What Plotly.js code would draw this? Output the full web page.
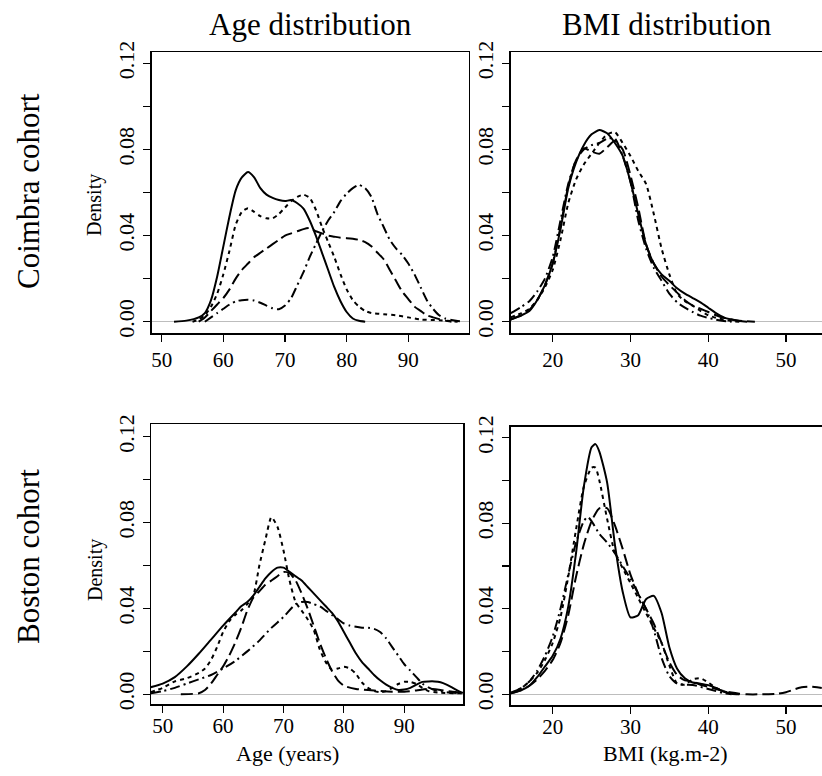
<!DOCTYPE html>
<html>
<head>
<meta charset="utf-8">
<script src="https://cdn.plot.ly/plotly-3.0.1.min.js"></script>
<style>
html,body{margin:0;padding:0;background:#fff;overflow:hidden;}
#chart{width:822px;height:776px;}
</style>
</head>
<body>
<div id="chart"></div>
<script>
// ---------- Data (kernel density estimates) ----------
// Coimbra cohort – Age
const cAgeSolidX = [52,54,56,57,58,59,60,61,62,63,64,65,66,67,68,69,70,71,72,73,74,75,76,77,78,79,80,81,82,83];
const cAgeSolidY = [0,0.0005,0.002,0.004,0.010,0.021,0.035,0.049,0.061,0.067,0.0695,0.067,0.062,0.059,0.0575,0.0565,0.056,0.0565,0.055,0.0525,0.047,0.040,0.032,0.024,0.016,0.0095,0.0045,0.0015,0.0004,0];
const cAgeDotX = [55,56,57,58,59,60,61,62,63,64,65,66,67,68,69,70,71,72,73,74,75,76,77,78,79,80,81,82,83,84,86,88,90,92,95,98];
const cAgeDotY = [0,0.001,0.003,0.007,0.013,0.022,0.033,0.045,0.051,0.0527,0.051,0.049,0.048,0.048,0.050,0.053,0.056,0.058,0.059,0.0575,0.052,0.044,0.037,0.030,0.022,0.015,0.010,0.007,0.005,0.004,0.0035,0.003,0.002,0.001,0.0007,0];
const cAgeDashX = [56,57,58,59,60,61,62,63,64,65,66,67,68,69,70,71,72,73,74,75,76,77,78,79,80,81,82,83,84,85,86,87,88,89,90,91,92,93,94,95,96,97];
const cAgeDashY = [0,0.002,0.005,0.008,0.011,0.015,0.020,0.024,0.027,0.030,0.032,0.034,0.036,0.038,0.040,0.041,0.042,0.043,0.0435,0.042,0.041,0.040,0.0395,0.039,0.0388,0.0385,0.038,0.037,0.035,0.032,0.029,0.024,0.019,0.014,0.0105,0.007,0.005,0.003,0.002,0.0012,0.0005,0];
const cAgeDashDotX = [57,58,59,60,61,62,63,64,65,66,67,68,69,70,71,72,73,74,75,76,77,78,79,80,81,82,83,84,85,86,87,88,89,90,91,92,93,94,95,96,97,98,99];
const cAgeDashDotY = [0,0.002,0.004,0.006,0.008,0.0095,0.010,0.0102,0.0098,0.0088,0.0075,0.0062,0.0058,0.0075,0.011,0.017,0.023,0.030,0.036,0.042,0.047,0.051,0.056,0.0595,0.062,0.0635,0.062,0.058,0.050,0.044,0.038,0.034,0.031,0.027,0.022,0.016,0.010,0.006,0.003,0.0015,0.0008,0.0003,0];

// Coimbra cohort – BMI
const cBmiSolidX = [14.6,16,17,18,19,20,21,22,23,24,25,26,27,28,29,30,31,32,33,34,35,36,37,38,39,40,41,42,43,44,45];
const cBmiSolidY = [0.001,0.003,0.005,0.010,0.017,0.027,0.043,0.062,0.074,0.082,0.087,0.089,0.0875,0.083,0.077,0.065,0.050,0.036,0.027,0.022,0.019,0.0155,0.013,0.011,0.009,0.0065,0.004,0.002,0.001,0.0003,0];
const cBmiDotX = [14.6,16,17,18,19,20,21,22,23,24,25,26,27,28,29,30,31,32,33,34,35,36,37,38,39,40,41,42,43,44];
const cBmiDotY = [0.002,0.004,0.006,0.010,0.016,0.024,0.038,0.055,0.066,0.073,0.078,0.083,0.087,0.088,0.083,0.077,0.070,0.064,0.050,0.034,0.022,0.013,0.0095,0.0075,0.005,0.003,0.0018,0.001,0.0003,0];
const cBmiDashX = [14.6,16,17,18,19,20,21,22,23,24,25,26,27,28,29,30,31,32,33,34,35,36,37,38,39,40,41,42,43,44,46];
const cBmiDashY = [0.001,0.003,0.0055,0.010,0.017,0.027,0.044,0.063,0.075,0.0805,0.079,0.078,0.081,0.084,0.080,0.068,0.053,0.036,0.027,0.021,0.017,0.0135,0.010,0.0075,0.006,0.0045,0.003,0.0018,0.001,0.0004,0];
const cBmiDashDotX = [14.6,16,17,18,19,20,21,22,23,24,25,26,27,28,29,30,31,32,33,34,35,36,37,38,39,40,41,42,43];
const cBmiDashDotY = [0.004,0.007,0.0095,0.014,0.020,0.030,0.047,0.064,0.075,0.080,0.082,0.083,0.085,0.085,0.077,0.065,0.047,0.034,0.025,0.019,0.013,0.009,0.0065,0.0045,0.0028,0.0018,0.0009,0.0003,0];

// Boston cohort – Age
const bAgeSolidX = [48,50,52,54,56,58,60,62,63,64,65,66,67,68,69,70,71,72,73,74,75,76,77,78,79,80,81,82,83,84,85,86,87,88,89,90,91,92,93,94,95,96,97,98,99,99.7];
const bAgeSolidY = [0.0033,0.005,0.008,0.013,0.019,0.0255,0.032,0.038,0.041,0.043,0.046,0.050,0.054,0.057,0.059,0.059,0.057,0.055,0.053,0.050,0.047,0.044,0.041,0.038,0.034,0.029,0.024,0.019,0.015,0.012,0.009,0.0065,0.0045,0.003,0.002,0.0022,0.003,0.0045,0.0058,0.006,0.006,0.0056,0.0045,0.003,0.0015,0.0006];
const bAgeDotX = [48,50,52,54,56,57,58,59,60,61,62,63,64,65,66,67,68,69,70,71,72,73,74,75,76,77,78,79,80,81,82,83,84,85,86,87,88,89,90,91,92,93,94,96,99.5];
const bAgeDotY = [0.001,0.003,0.006,0.0075,0.010,0.012,0.016,0.022,0.029,0.034,0.037,0.039,0.042,0.046,0.060,0.072,0.0825,0.078,0.067,0.053,0.043,0.039,0.035,0.030,0.021,0.015,0.0115,0.012,0.0128,0.012,0.0095,0.0055,0.003,0.0015,0.001,0.0015,0.003,0.0048,0.0058,0.0058,0.0048,0.003,0.0015,0.0007,0.0005];
const bAgeDashX = [53,55,56,57,58,59,60,61,62,63,64,65,66,67,68,69,70,71,72,73,74,75,76,77,78,79,80,82,84,86,88,90,92,94,96,98,99.7];
const bAgeDashY = [0,0.0002,0.0005,0.002,0.005,0.009,0.013,0.018,0.024,0.031,0.039,0.045,0.048,0.051,0.053,0.055,0.057,0.0565,0.053,0.047,0.040,0.032,0.024,0.017,0.011,0.0065,0.004,0.0025,0.002,0.0015,0.0012,0.0012,0.0018,0.0025,0.002,0.0012,0.0008];
const bAgeDashDotX = [48,50,52,54,56,58,60,62,64,66,68,70,72,73,74,75,76,77,78,79,80,81,82,83,84,85,86,87,88,89,90,91,92,93,94,95,96,97,99.5];
const bAgeDashDotY = [0.0005,0.0015,0.003,0.005,0.007,0.009,0.012,0.0155,0.020,0.025,0.031,0.036,0.042,0.043,0.043,0.042,0.041,0.039,0.037,0.035,0.033,0.032,0.0315,0.031,0.031,0.0305,0.029,0.026,0.022,0.018,0.014,0.011,0.008,0.005,0.0032,0.002,0.0015,0.001,0.0005];

// Boston cohort – BMI
const bBmiSolidX = [14.6,16,17,18,19,20,21,22,23,24,25,25.5,26,27,28,29,30,31,32,33,34,35,36,37,38,39,40,41,42,43,44];
const bBmiSolidY = [0.0005,0.002,0.004,0.008,0.013,0.018,0.026,0.041,0.066,0.097,0.1155,0.117,0.1135,0.099,0.070,0.048,0.036,0.037,0.0445,0.046,0.038,0.022,0.012,0.0075,0.0055,0.005,0.0043,0.003,0.0012,0.0003,0];
const bBmiDotX = [14.6,16,17,18,19,20,21,22,23,24,25,25.5,26,27,28,29,30,31,32,33,34,35,36,37,38,39,40,41,42,43,44];
const bBmiDotY = [0.0005,0.003,0.006,0.010,0.016,0.024,0.036,0.055,0.077,0.097,0.106,0.106,0.100,0.082,0.066,0.059,0.052,0.045,0.038,0.031,0.024,0.0135,0.005,0.0045,0.007,0.0075,0.0055,0.003,0.0015,0.0005,0];
const bBmiDashX = [14.6,16,17,18,19,20,21,22,23,24,25,26,27,28,29,30,31,32,33,34,35,36,37,38,39,40,41,42,43,44,45,47,49,50,51,52,53,54,54.6];
const bBmiDashY = [0.0005,0.002,0.004,0.007,0.011,0.016,0.024,0.037,0.055,0.070,0.081,0.087,0.087,0.079,0.068,0.056,0.047,0.040,0.033,0.024,0.015,0.009,0.0065,0.006,0.0045,0.0035,0.0025,0.0015,0.0008,0.0003,0,0,0.0003,0.001,0.0022,0.0033,0.0036,0.0033,0.003];
const bBmiDashDotX = [14.6,16,17,18,19,20,21,22,23,24,24.5,25,26,27,28,29,30,31,32,33,34,35,36,37,38,39,40,41,42,43];
const bBmiDashDotY = [0.0008,0.003,0.006,0.011,0.018,0.027,0.040,0.056,0.071,0.081,0.083,0.081,0.075,0.071,0.066,0.060,0.054,0.047,0.040,0.030,0.017,0.0085,0.005,0.0045,0.0044,0.0035,0.0025,0.0015,0.0005,0];

// Tick labels
const ageTicks = [50,60,70,80,90];
const bmiTicks = [20,30,40,50];
const densTickVals = [0,0.02,0.04,0.06,0.08,0.10,0.12];
const densTickText = ['0.00','','0.04','','0.08','','0.12'];

// ---------- Styles ----------
const FONT = 'Liberation Serif, Times New Roman, serif';
const dashes = {solid:'solid', dot:'4px,4px', dash:'12px,5px', dashdot:'10px,4px,2px,4px'};

function tr(x, y, dash, xa, ya) {
  return {x:x, y:y, xaxis:xa, yaxis:ya, type:'scatter', mode:'lines',
    line:{color:'#000', width:2, dash:dashes[dash], shape:'spline', smoothing:0.6},
    hoverinfo:'skip', showlegend:false};
}

const data = [
  tr(cAgeSolidX, cAgeSolidY, 'solid', 'x', 'y'),
  tr(cAgeDotX, cAgeDotY, 'dot', 'x', 'y'),
  tr(cAgeDashX, cAgeDashY, 'dash', 'x', 'y'),
  tr(cAgeDashDotX, cAgeDashDotY, 'dashdot', 'x', 'y'),
  tr(cBmiSolidX, cBmiSolidY, 'solid', 'x2', 'y2'),
  tr(cBmiDotX, cBmiDotY, 'dot', 'x2', 'y2'),
  tr(cBmiDashX, cBmiDashY, 'dash', 'x2', 'y2'),
  tr(cBmiDashDotX, cBmiDashDotY, 'dashdot', 'x2', 'y2'),
  tr(bAgeSolidX, bAgeSolidY, 'solid', 'x3', 'y3'),
  tr(bAgeDotX, bAgeDotY, 'dot', 'x3', 'y3'),
  tr(bAgeDashX, bAgeDashY, 'dash', 'x3', 'y3'),
  tr(bAgeDashDotX, bAgeDashDotY, 'dashdot', 'x3', 'y3'),
  tr(bBmiSolidX, bBmiSolidY, 'solid', 'x4', 'y4'),
  tr(bBmiDotX, bBmiDotY, 'dot', 'x4', 'y4'),
  tr(bBmiDashX, bBmiDashY, 'dash', 'x4', 'y4'),
  tr(bBmiDashDotX, bBmiDashDotY, 'dashdot', 'x4', 'y4')
];

const W = 822, H = 776;
function xd(a, b) { return [a / W, Math.min(b / W, 1)]; }
function yd(top, bot) { return [1 - bot / H, 1 - top / H]; }

function xaxis(dom, range, ticks, anchor, standoff) {
  return {domain:dom, range:range, anchor:anchor, tickmode:'array', tickvals:ticks,
    ticktext:ticks.map(String), ticks:'outside', ticklen:7, tickwidth:1.2, tickcolor:'#000',
    ticklabelstandoff:standoff,
    showline:true, linecolor:'#000', linewidth:1.5, mirror:true, showgrid:false, zeroline:false,
    tickfont:{family:FONT, size:21, color:'#000'}, fixedrange:true};
}
function yaxis(dom, range, anchor, mirror) {
  return {domain:dom, range:range, anchor:anchor, tickmode:'array', tickvals:densTickVals,
    ticktext:densTickText, tickangle:-90, ticks:'outside', ticklen:7, tickwidth:1.2, tickcolor:'#000',
    showline:true, linecolor:'#000', linewidth:1.5, mirror:mirror, showgrid:false,
    zeroline:true, zerolinecolor:'#bdbdbd', zerolinewidth:1.2,
    tickfont:{family:FONT, size:22, color:'#000'}, fixedrange:true};
}

const layout = {
  width:W, height:H, margin:{l:0, r:0, t:0, b:0},
  paper_bgcolor:'#fff', plot_bgcolor:'#fff', showlegend:false,
  xaxis:  xaxis(xd(151.7, 468.5), [48.38, 99.76], ageTicks, 'y', 0),
  yaxis:  yaxis(yd(52, 333), [-0.00525, 0.12525], 'x', true),
  xaxis2: xaxis(xd(510.7, 822), [14.6, 54.63], bmiTicks, 'y2', 0),
  yaxis2: yaxis(yd(52, 333), [-0.00525, 0.12525], 'x2', false),
  xaxis3: xaxis(xd(151, 463.3), [48.06, 99.77], ageTicks, 'y3', -5),
  yaxis3: yaxis(yd(424.3, 704), [-0.00452, 0.12578], 'x3', true),
  xaxis4: xaxis(xd(510.7, 822), [14.6, 54.63], bmiTicks, 'y4', -5),
  yaxis4: yaxis(yd(426.7, 705), [-0.005, 0.12514], 'x4', false),
  annotations: [
    {text:'Age distribution', x:310/W, y:1-25/H, xref:'paper', yref:'paper', showarrow:false,
     font:{family:FONT, size:31, color:'#000'}, xanchor:'center', yanchor:'middle'},
    {text:'BMI distribution', x:667/W, y:1-25/H, xref:'paper', yref:'paper', showarrow:false,
     font:{family:FONT, size:31, color:'#000'}, xanchor:'center', yanchor:'middle'},
    {text:'Coimbra cohort', x:28/W, y:1-191/H, xref:'paper', yref:'paper', showarrow:false, textangle:-90,
     font:{family:FONT, size:31, color:'#000'}, xanchor:'center', yanchor:'middle'},
    {text:'Boston cohort', x:28/W, y:1-557/H, xref:'paper', yref:'paper', showarrow:false, textangle:-90,
     font:{family:FONT, size:31, color:'#000'}, xanchor:'center', yanchor:'middle'},
    {text:'Density', x:95/W, y:1-205/H, xref:'paper', yref:'paper', showarrow:false, textangle:-90,
     font:{family:FONT, size:20, color:'#000'}, xanchor:'center', yanchor:'middle'},
    {text:'Density', x:95/W, y:1-570/H, xref:'paper', yref:'paper', showarrow:false, textangle:-90,
     font:{family:FONT, size:20, color:'#000'}, xanchor:'center', yanchor:'middle'},
    {text:'Age (years)', x:287/W, y:1-753/H, xref:'paper', yref:'paper', showarrow:false,
     font:{family:FONT, size:22, color:'#000'}, xanchor:'center', yanchor:'middle'},
    {text:'BMI (kg.m-2)', x:665/W, y:1-753/H, xref:'paper', yref:'paper', showarrow:false,
     font:{family:FONT, size:22, color:'#000'}, xanchor:'center', yanchor:'middle'}
  ]
};

Plotly.newPlot('chart', data, layout, {staticPlot:true, displayModeBar:false});
</script>
</body>
</html>
